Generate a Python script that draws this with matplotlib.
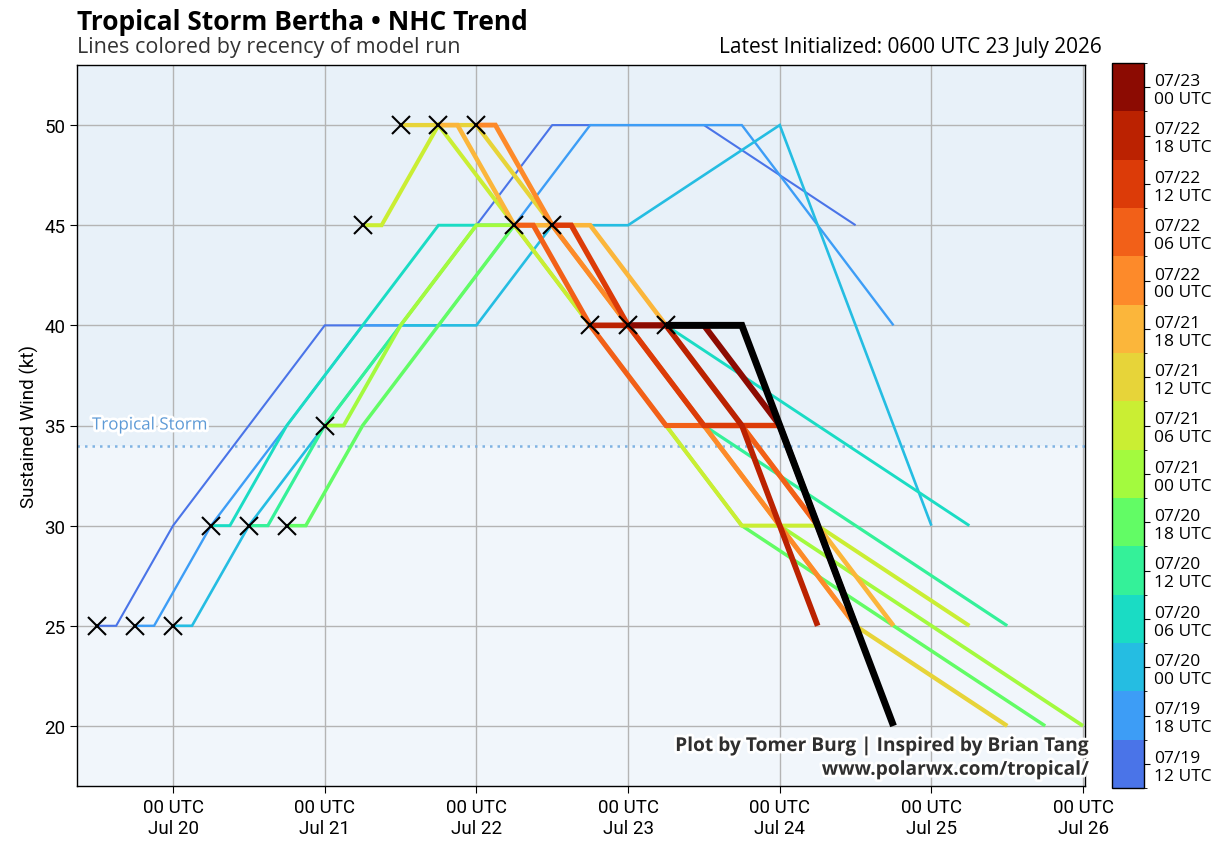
import matplotlib
matplotlib.use("Agg")
import matplotlib.pyplot as plt
import matplotlib.dates as mdates
import matplotlib.patheffects as pe
from matplotlib.colors import ListedColormap, BoundaryNorm
from datetime import datetime, timedelta

plt.rcParams['font.family'] = ['Roboto', 'DejaVu Sans']
TXT = ['Open Sans', 'DejaVu Sans']

# ---------------- data ----------------
forecast_leads = [0, 3, 12, 24, 36, 48, 60, 72, 96, 120]   # hours after init

run_inits = ["2026-07-19 12", "2026-07-19 18", "2026-07-20 00", "2026-07-20 06",
             "2026-07-20 12", "2026-07-20 18", "2026-07-21 00", "2026-07-21 06",
             "2026-07-21 12", "2026-07-21 18", "2026-07-22 00", "2026-07-22 06",
             "2026-07-22 12", "2026-07-22 18", "2026-07-23 00", "2026-07-23 06"]

wind_0719_12 = [25, 25, 30, 35, 40, 40, 45, 50, 50, 45]
wind_0719_18 = [25, 25, 30, 35, 40, 40, 45, 50, 50, 40]
wind_0720_00 = [25, 25, 30, 35, 40, 40, 45, 45, 50, 30]
wind_0720_06 = [30, 30, 35, 40, 45, 45, 45, 40, 35, 30]
wind_0720_12 = [30, 30, 35, 40, 45, 45, 40, 35, 30, 25]
wind_0720_18 = [30, 30, 35, 40, 45, 40, 35, 30, 25, 20]
wind_0721_00 = [35, 35, 40, 45, 45, 40, 35, 30, 25, 20]
wind_0721_06 = [45, 45, 50, 45, 40, 35, 30, 30, 25]
wind_0721_12 = [50, 50, 50, 45, 40, 35, 30, 25, 20]
wind_0721_18 = [50, 50, 45, 45, 40, 35, 30, 25]
wind_0722_00 = [50, 50, 45, 40, 35, 30, 25]
wind_0722_06 = [45, 45, 40, 35, 35, 30]
wind_0722_12 = [45, 45, 40, 35, 35]
wind_0722_18 = [40, 40, 40, 35, 25]
wind_0723_00 = [40, 40, 40, 35, 25]
wind_0723_06 = [40, 40, 40, 30, 20]

run_winds = [wind_0719_12, wind_0719_18, wind_0720_00, wind_0720_06, wind_0720_12,
             wind_0720_18, wind_0721_00, wind_0721_06, wind_0721_12, wind_0721_18,
             wind_0722_00, wind_0722_06, wind_0722_12, wind_0722_18, wind_0723_00,
             wind_0723_06]

cbar_labels = ["07/19\n12 UTC", "07/19\n18 UTC", "07/20\n00 UTC", "07/20\n06 UTC",
               "07/20\n12 UTC", "07/20\n18 UTC", "07/21\n00 UTC", "07/21\n06 UTC",
               "07/21\n12 UTC", "07/21\n18 UTC", "07/22\n00 UTC", "07/22\n06 UTC",
               "07/22\n12 UTC", "07/22\n18 UTC", "07/23\n00 UTC"]

run_colors = ['#4a74e8', '#3d9df6', '#25bde2', '#1adcc4', '#34f199', '#62fc65',
              '#a3fa3e', '#caee33', '#e7d439', '#fbb63b', '#fd8a2a', '#f26018',
              '#dc3b08', '#bb2201', '#8c0b02']
latest_color = 'black'

ts_threshold = 34

# ---------------- figure ----------------
fig = plt.figure(figsize=(12.28, 8.53), dpi=100)
ax = fig.add_axes([77/1228, 1-787/853, (1085-77)/1228, (787-66)/853])

ax.set_facecolor('#f1f6fb')
ax.axhspan(ts_threshold, 64, color='#e8f1f9', zorder=0, lw=0)
ax.axhline(ts_threshold, color='#7fb3e3', lw=1.8, ls=(0, (1, 2)), zorder=1)
ax.grid(True, color='#b4b4b4', lw=1.0, zorder=1)
ax.set_axisbelow(True)

n = len(run_inits)
for i, (init, winds) in enumerate(zip(run_inits, run_winds)):
    t0 = datetime.strptime(init, "%Y-%m-%d %H")
    times = [t0 + timedelta(hours=h) for h in forecast_leads[:len(winds)]]
    if i == n - 1:
        col, lw = latest_color, 5.0
    else:
        col, lw = run_colors[i], 1.5 + 0.2 * i
    ax.plot(times, winds, color=col, lw=lw, zorder=3 + i * 0.1, solid_capstyle='butt',
            solid_joinstyle='miter')
    ax.plot([times[0]], [winds[0]], marker='x', color='black', ms=13, mew=1.5,
            zorder=10, ls='none')

ax.set_xlim(datetime(2026, 7, 20) - timedelta(hours=15.2),
            datetime(2026, 7, 20) + timedelta(hours=144.3))
ax.set_ylim(17, 53)
ax.set_yticks([20, 25, 30, 35, 40, 45, 50])
ax.xaxis.set_major_locator(mdates.DayLocator())
ax.xaxis.set_major_formatter(mdates.DateFormatter('%H UTC\n%b %-d'))
ax.tick_params(axis='both', labelsize=13.5, length=5)
ax.set_ylabel('Sustained Wind (kt)', fontsize=13.5)
for s in ax.spines.values():
    s.set_linewidth(1.0)

ax.annotate('Tropical Storm', xy=(0, 35), xycoords=('axes fraction', 'data'),
            xytext=(15, 0), textcoords='offset pixels', va='center', ha='left',
            fontsize=12.2, color='#5d9ad6', zorder=6, family=TXT,
            path_effects=[pe.withStroke(linewidth=4, foreground='white')])

ax.text(1.004, 0.039, 'Plot by Tomer Burg | Inspired by Brian Tang\nwww.polarwx.com/tropical/',
        transform=ax.transAxes, ha='right', va='center', fontsize=13.8, fontweight='bold',
        color='#2f2f2f', linespacing=1.25, zorder=12, family=TXT,
        path_effects=[pe.withStroke(linewidth=4, foreground='white')])

fig.text(77/1228, 1-22/853, 'Tropical Storm Bertha • NHC Trend', fontsize=19,
         fontweight='bold', va='center', ha='left', family=TXT)
fig.text(77/1228, 1-47/853, 'Lines colored by recency of model run', fontsize=15.5,
         va='center', ha='left', color='#333333', family=TXT)
fig.text(1102/1228, 1-47/853, 'Latest Initialized: 0600 UTC 23 July 2026', fontsize=15,
         va='center', ha='right', family=TXT)

# colorbar
cax = fig.add_axes([1112/1228, 1-789/853, 32/1228, (789-64)/853])
cmap = ListedColormap(run_colors)
norm = BoundaryNorm(list(range(len(run_colors) + 1)), cmap.N)
sm = plt.cm.ScalarMappable(cmap=cmap, norm=norm)
cb = fig.colorbar(sm, cax=cax, ticks=[k + 0.5 for k in range(len(run_colors))])
cb.ax.set_yticklabels(cbar_labels, family=TXT, linespacing=1.15)
cb.ax.tick_params(labelsize=12.5, length=4)
cb.outline.set_linewidth(1.0)

fig.savefig('out.png', dpi=100)
